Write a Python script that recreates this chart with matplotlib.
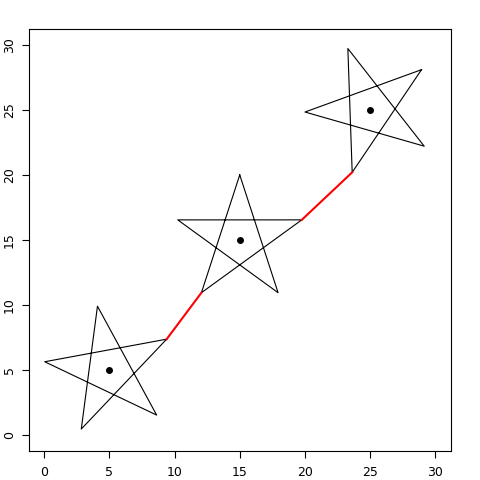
import numpy as np
import matplotlib
matplotlib.use("Agg")
import matplotlib.pyplot as plt

# Star parameters
centers_x = [5, 15, 25]
centers_y = [5, 15, 25]
radius = [5, 5, 5]
start_angle_deg = [28.5, 90, 38]   # angle of vertex 0 for each star

# Red connecting segments: (star i, vertex a) -> (star j, vertex b)
links = [(0, 0, 1, 2), (1, 4, 2, 3)]

ticks = [0, 5, 10, 15, 20, 25, 30]

def star_vertices(cx, cy, r, a0):
    ang = np.deg2rad(a0 + 72 * np.arange(5))
    return cx + r * np.cos(ang), cy + r * np.sin(ang)

fig = plt.figure(figsize=(4.8, 4.8), dpi=100)
ax = fig.add_axes([28.5 / 480, 29 / 480, (451 - 28.5) / 480, (451 - 29) / 480])

verts = []
for cx, cy, r, a0 in zip(centers_x, centers_y, radius, start_angle_deg):
    vx, vy = star_vertices(cx, cy, r, a0)
    verts.append((vx, vy))
    order = [0, 2, 4, 1, 3, 0]
    ax.plot(vx[order], vy[order], color="black", lw=0.8)

for i, a, j, b in links:
    ax.plot([verts[i][0][a], verts[j][0][b]], [verts[i][1][a], verts[j][1][b]],
            color="red", lw=1.5)

ax.plot(centers_x, centers_y, "o", color="black", markersize=4)

ax.set_xlim(-1.2, 31.2)
ax.set_ylim(-1.2, 31.2)
ax.set_xticks(ticks)
ax.set_yticks(ticks)
ax.set_xticklabels([str(t) for t in ticks], fontsize=9)
ax.set_yticklabels([str(t) for t in ticks], fontsize=9, rotation=90, va="center")
ax.tick_params(length=5, width=0.8)
ax.tick_params(axis="x", pad=6)
ax.tick_params(axis="y", pad=4)
for s in ax.spines.values():
    s.set_linewidth(0.8)

fig.savefig("out.png", dpi=100)
